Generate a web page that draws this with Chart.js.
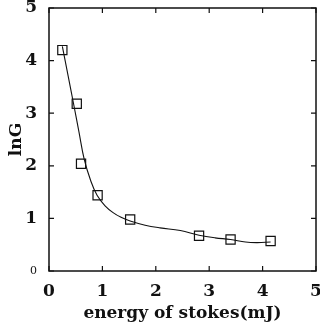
<!DOCTYPE html>
<html>
<head>
<meta charset="utf-8">
<script src="https://cdn.jsdelivr.net/npm/chart.js@4/dist/chart.umd.min.js"></script>
<style>
  html, body { margin: 0; padding: 0; background: #fff; overflow: hidden; }
  #wrap { width: 320px; height: 328px; }
</style>
</head>
<body>
<div id="wrap"><canvas id="myChart"></canvas></div>
<script>
// measured points (squares)
const energy = [0.25, 0.52, 0.6, 0.91, 1.52, 2.81, 3.40, 4.15];
const lnG = [4.2, 3.18, 2.04, 1.44, 0.98, 0.67, 0.6, 0.57];

// fitted curve
const curveX = [0.25, 0.36, 0.46, 0.56, 0.66, 0.78, 0.9, 1.05, 1.2, 1.35, 1.52, 1.8, 2.08, 2.46, 2.81, 3.11, 3.4, 3.68, 3.9, 4.15];
const curveY = [4.27, 3.7, 3.18, 2.65, 2.12, 1.72, 1.44, 1.24, 1.11, 1.02, 0.95, 0.87, 0.82, 0.77, 0.68, 0.63, 0.6, 0.55, 0.54, 0.55];

const tickValues = [0, 1, 2, 3, 4, 5];

const serif = "'DejaVu Serif', 'Liberation Serif', serif";

// box frame and inward tick marks on all four sides
const framePlugin = {
  id: 'frame',
  afterDraw(chart) {
    const ctx = chart.ctx;
    const a = chart.chartArea;
    const xs = chart.scales.x, ys = chart.scales.y;
    ctx.save();
    ctx.strokeStyle = '#111';
    ctx.lineWidth = 1.5;
    ctx.strokeRect(a.left, a.top, a.right - a.left, a.bottom - a.top);
    ctx.lineWidth = 1.2;
    ctx.beginPath();
    tickValues.forEach(v => {
      const px = xs.getPixelForValue(v);
      ctx.moveTo(px, a.bottom); ctx.lineTo(px, a.bottom - 5);
      ctx.moveTo(px, a.top); ctx.lineTo(px, a.top + 5);
      const py = ys.getPixelForValue(v);
      ctx.moveTo(a.left, py); ctx.lineTo(a.left + 5, py);
      ctx.moveTo(a.right, py); ctx.lineTo(a.right - 5, py);
    });
    ctx.stroke();
    ctx.restore();
  }
};

const ctx = document.getElementById('myChart').getContext('2d');
const myChart = new Chart(ctx, {
  type: 'scatter',
  data: {
    datasets: [
      {
        label: 'fit',
        data: curveX.map((x, i) => ({ x: x, y: curveY[i] })),
        showLine: true,
        borderColor: '#111',
        borderWidth: 1.1,
        pointRadius: 0,
        tension: 0.4,
        fill: false
      },
      {
        label: 'lnG',
        data: energy.map((x, i) => ({ x: x, y: lnG[i] })),
        pointStyle: 'rect',
        pointRadius: 6.5,
        pointBorderWidth: 1.2,
        pointBorderColor: '#111',
        pointBackgroundColor: 'rgba(255,255,255,0)'
      }
    ]
  },
  options: {
    responsive: true,
    maintainAspectRatio: false,
    animation: false,
    layout: { autoPadding: false, padding: { left: 0, top: 8, right: 4, bottom: 0 } },
    plugins: {
      legend: { display: false },
      tooltip: { enabled: false }
    },
    scales: {
      x: {
        type: 'linear',
        min: 0,
        max: 5,
        afterFit: function(scale) {
          scale.height = 57;
          scale.paddingLeft = 0;
          scale.paddingRight = 0;
        },
        grid: { display: false },
        border: { display: false },
        ticks: {
          stepSize: 1,
          padding: 2,
          color: '#111',
          font: { family: serif, size: 17, weight: 'bold' }
        },
        title: {
          display: true,
          text: 'energy of stokes(mJ)',
          color: '#111',
          padding: { top: 0, bottom: 4 },
          font: { family: serif, size: 17, weight: 'bold' }
        }
      },
      y: {
        type: 'linear',
        min: 0,
        max: 5,
        afterFit: function(scale) {
          scale.width = 49;
          scale.paddingTop = 0;
          scale.paddingBottom = 0;
        },
        grid: { display: false },
        border: { display: false },
        ticks: {
          stepSize: 1,
          padding: 4,
          color: '#111',
          font: function(c) {
            if (c.tick && c.tick.value === 0) {
              return { family: serif, size: 11, weight: 'normal' };
            }
            return { family: serif, size: 17, weight: 'bold' };
          }
        },
        title: {
          display: true,
          text: 'lnG',
          color: '#111',
          padding: { top: 6, bottom: 0 },
          font: { family: serif, size: 17, weight: 'bold' }
        }
      }
    }
  },
  plugins: [framePlugin]
});
</script>
</body>
</html>
